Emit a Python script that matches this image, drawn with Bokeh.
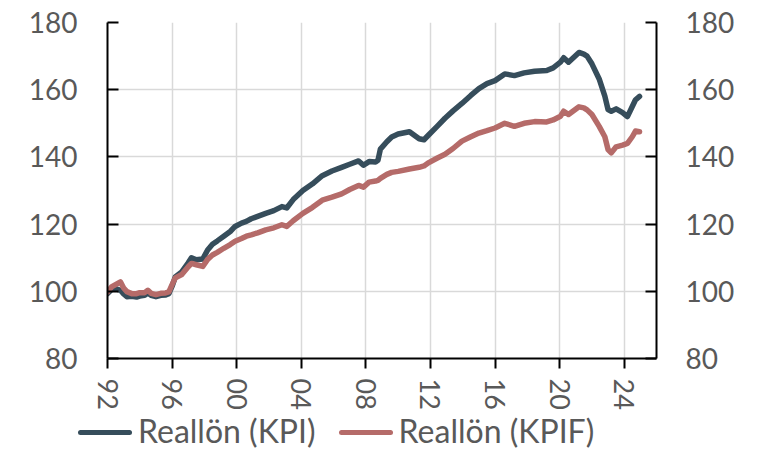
import math
from bokeh.plotting import figure
from bokeh.layouts import column
from bokeh.models import Range1d, LinearAxis, FixedTicker, Div
from bokeh.embed import file_html
from bokeh.resources import INLINE

# ---- data ----
years = [1992.0, 1992.25, 1992.5, 1992.8, 1993.0, 1993.2, 1993.5, 1993.8, 1994.0, 1994.3,
         1994.5, 1994.7, 1995.0, 1995.3, 1995.6, 1995.8, 1996.0, 1996.2, 1996.6, 1997.0,
         1997.2, 1997.5, 1997.9, 1998.2, 1998.5, 1998.8, 1999.2, 1999.6, 1999.9, 2000.3,
         2000.6, 2000.9, 2001.3, 2001.8, 2002.3, 2002.8, 2003.1, 2003.5, 2004.1, 2004.7,
         2005.3, 2005.9, 2006.5, 2007.0, 2007.55, 2007.85, 2008.2, 2008.6, 2008.75, 2008.9,
         2009.3, 2009.6, 2010.0, 2010.7, 2011.3, 2011.6, 2011.9, 2012.4, 2012.9, 2013.4,
         2013.95, 2014.5, 2015.0, 2015.5, 2016.0, 2016.6, 2017.2, 2017.8, 2018.45, 2019.2,
         2019.6, 2020.05, 2020.25, 2020.55, 2021.2, 2021.5, 2021.7, 2022.0, 2022.45, 2022.8,
         2023.0, 2023.2, 2023.5, 2023.9, 2024.2, 2024.5, 2024.7, 2024.95]
kpi = [99.3, 100.5, 100.8, 100.3, 99.2, 98.4, 98.5, 98.3, 98.6, 98.8,
       99.5, 98.8, 98.4, 98.8, 98.9, 99.3, 101.5, 104.3, 105.8, 108.5,
       110.0, 109.4, 109.6, 112.3, 114.0, 115.0, 116.4, 117.8, 119.3, 120.3,
       120.8, 121.6, 122.3, 123.2, 124.0, 125.2, 124.8, 127.3, 130.0, 132.0,
       134.4, 135.8, 136.9, 137.8, 138.8, 137.5, 138.6, 138.5, 139.0, 142.3,
       144.5, 145.9, 146.8, 147.5, 145.4, 145.1, 146.6, 149.0, 151.5, 153.7,
       155.9, 158.3, 160.3, 161.8, 162.7, 164.7, 164.2, 165.0, 165.5, 165.7,
       166.5, 168.2, 169.5, 168.2, 171.1, 170.6, 170.0, 167.7, 163.2, 158.1,
       154.1, 153.6, 154.3, 153.2, 152.0, 155.0, 157.0, 158.0]
kpif = [99.8, 101.3, 102.0, 102.8, 101.0, 99.9, 99.3, 99.3, 99.6, 99.6,
        100.3, 99.4, 99.0, 99.4, 99.5, 99.8, 102.0, 104.0, 105.0, 107.3,
        108.3, 107.9, 107.4, 109.5, 110.8, 111.6, 112.8, 113.9, 114.9, 115.7,
        116.4, 116.8, 117.4, 118.3, 118.9, 119.8, 119.3, 121.0, 123.2, 125.0,
        127.1, 128.0, 129.0, 130.3, 131.5, 131.0, 132.5, 132.8, 133.0, 133.6,
        134.8, 135.4, 135.7, 136.4, 136.9, 137.3, 138.3, 139.6, 140.8, 142.5,
        144.7, 146.0, 147.1, 147.8, 148.6, 150.0, 149.1, 150.0, 150.5, 150.4,
        151.0, 152.1, 153.6, 152.6, 154.9, 154.6, 154.0, 152.6, 149.1, 146.0,
        142.2, 141.2, 143.0, 143.5, 144.0, 146.0, 147.7, 147.5]

x_ticks = [1992, 1996, 2000, 2004, 2008, 2012, 2016, 2020, 2024]
x_tick_labels = ["92", "96", "00", "04", "08", "12", "16", "20", "24"]
y_ticks = [80, 100, 120, 140, 160, 180]
series_names = ["Reallön (KPI)", "Reallön (KPIF)"]
series_colors = ["#364d5b", "#b56b69"]

FONT = "Lato"
GREY = "#595959"
LW = 5.5

p = figure(width=741, height=412, output_backend="svg", toolbar_location=None,
           x_range=Range1d(1992, 2026), y_range=Range1d(80, 180),
           min_border_left=107, min_border_right=85, min_border_top=22, min_border_bottom=54)
p.outline_line_color = None
p.background_fill_color = "white"

p.line(years, kpi, line_color=series_colors[0], line_width=LW, line_join="round", line_cap="round")
p.line(years, kpif, line_color=series_colors[1], line_width=LW, line_join="round", line_cap="round")

# grids
p.xgrid.ticker = FixedTicker(ticks=x_ticks)
p.ygrid.ticker = FixedTicker(ticks=y_ticks)
for g in (p.xgrid, p.ygrid):
    g.grid_line_color = "#d9d9d9"
    g.grid_line_width = 1.5

# x axis
xa = p.xaxis[0]
xa.ticker = FixedTicker(ticks=x_ticks)
xa.major_label_overrides = {t: l for t, l in zip(x_ticks, x_tick_labels)}
xa.major_label_orientation = -math.pi / 2
xa.major_tick_in = 0
xa.major_tick_out = 10
xa.minor_tick_line_color = None
xa.axis_line_color = "black"
xa.axis_line_width = 2
xa.major_tick_line_color = "black"
xa.major_tick_line_width = 2
xa.major_label_text_font = FONT
xa.major_label_text_font_size = "27px"
xa.major_label_text_color = GREY
xa.major_label_standoff = 10

def style_y(ax):
    ax.ticker = FixedTicker(ticks=y_ticks)
    ax.major_tick_in = 11
    ax.major_tick_out = 0
    ax.minor_tick_line_color = None
    ax.axis_line_color = "black"
    ax.axis_line_width = 2
    ax.major_tick_line_color = "black"
    ax.major_tick_line_width = 2
    ax.major_label_text_font = FONT
    ax.major_label_text_font_size = "28px"
    ax.major_label_text_color = GREY

ya = p.yaxis[0]
style_y(ya)
ya.major_label_standoff = 30

yr = LinearAxis()
style_y(yr)
yr.major_label_standoff = 29
p.add_layout(yr, "right")

# ---- legend strip below the chart ----
def legend_item(name, color, left_pad):
    swatch = ('<span style="display:inline-block;width:54px;height:5px;border-radius:3px;'
              'background:%s;vertical-align:middle;position:relative;top:-2px;'
              'margin-right:6px"></span>' % color)
    return ('<span style="margin-left:%dpx;white-space:nowrap">%s%s</span>'
            % (left_pad, swatch, name))

legend_html = ('<div style="font-family:Lato,sans-serif;font-size:32px;line-height:38px;'
               'color:%s;white-space:nowrap">%s%s</div>'
               % (GREY, legend_item(series_names[0], series_colors[0], 78),
                  legend_item(series_names[1], series_colors[1], 23)))
legend_div = Div(text=legend_html, width=741, height=38, margin=(0, 0, 0, 0))

layout = column(p, legend_div, spacing=0)
open("out.html", "w").write(file_html(layout, INLINE))
